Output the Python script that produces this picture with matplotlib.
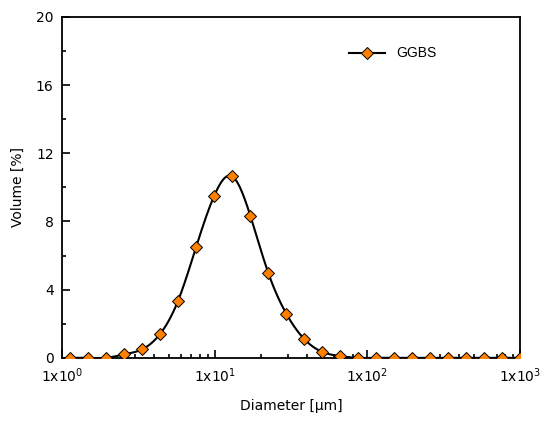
import numpy as np
import matplotlib
matplotlib.use("Agg")
import matplotlib.pyplot as plt
from matplotlib.ticker import FixedLocator, FuncFormatter, LogLocator, NullFormatter

# particle size distribution
diameter = [1.13, 1.48, 1.94, 2.55, 3.35, 4.39, 5.76, 7.56, 9.92, 13.0, 17.1, 22.4,
            29.4, 38.6, 50.6, 66.4, 87.1, 114, 150, 196, 258, 338, 444, 582, 764, 1000]
volume = [0.0, 0.0, 0.0, 0.2, 0.5, 1.4, 3.35, 6.5, 9.5, 10.65, 8.35, 5.0,
          2.6, 1.1, 0.35, 0.1, 0.0, 0.0, 0.0, 0.0, 0.0, 0.0, 0.0, 0.0, 0.0, 0.0]
label = "GGBS"
yticks = [0, 4, 8, 12, 16, 20]


def spline(x, y, n=600):
    # natural cubic spline, only used to draw the smooth line
    x = np.asarray(x, float); y = np.asarray(y, float)
    m = len(x); h = np.diff(x)
    A = np.zeros((m, m)); b = np.zeros(m)
    A[0, 0] = A[-1, -1] = 1
    for i in range(1, m - 1):
        A[i, i - 1] = h[i - 1]; A[i, i] = 2 * (h[i - 1] + h[i]); A[i, i + 1] = h[i]
        b[i] = 6 * ((y[i + 1] - y[i]) / h[i] - (y[i] - y[i - 1]) / h[i - 1])
    M = np.linalg.solve(A, b)
    xs = np.linspace(x[0], x[-1], n)
    k = np.clip(np.searchsorted(x, xs) - 1, 0, m - 2)
    t0 = x[k + 1] - xs; t1 = xs - x[k]
    ys = (M[k] * t0**3 + M[k + 1] * t1**3) / (6 * h[k]) \
        + (y[k] / h[k] - M[k] * h[k] / 6) * t0 + (y[k + 1] / h[k] - M[k + 1] * h[k] / 6) * t1
    return xs, ys


plt.rcParams['font.family'] = ['DejaVu Sans']
fig = plt.figure(figsize=(5.43, 4.23), dpi=100)
ax = fig.add_axes([0.114, 0.154, 0.844, 0.806])

lx, ly = spline(np.log10(diameter), volume)
ax.plot(10**lx, ly, color='black', lw=1.5, zorder=2)
ax.plot(diameter, volume, ls='none', marker='D', ms=6, mfc='#ff8000', mec='black',
        mew=0.7, zorder=3)
# legend handle
ax.plot([], [], color='black', lw=1.5, marker='D', ms=6, mfc='#ff8000', mec='black',
        mew=0.7, label=label)

ax.set_xscale('log')
ax.set_xlim(1, 1000)
ax.set_ylim(0, 20)
ax.set_yticks(yticks)
ax.yaxis.set_minor_locator(FixedLocator([2, 6, 10, 14, 18]))
ax.xaxis.set_major_locator(LogLocator(base=10))
ax.xaxis.set_minor_locator(LogLocator(base=10, subs=np.arange(2, 10)))
ax.xaxis.set_minor_formatter(NullFormatter())
ax.xaxis.set_major_formatter(FuncFormatter(lambda v, p: r'1x10$^{%d}$' % round(np.log10(v))))

ax.tick_params(which='both', direction='in', top=False, right=False, labelsize=10,
               width=1.2)
ax.tick_params(which='major', length=6, pad=6)
ax.tick_params(which='minor', length=3)
for s in ax.spines.values():
    s.set_linewidth(1.3)

ax.set_xlabel('Diameter [\u03bcm]', fontsize=10, labelpad=10)
ax.set_ylabel('Volume [%]', fontsize=10, labelpad=8)

leg = ax.legend(loc='upper left', bbox_to_anchor=(0.6, 0.95), frameon=False,
                handlelength=2.6, prop={'family': 'Liberation Sans', 'size': 10})

fig.savefig('out.png', dpi=100)
